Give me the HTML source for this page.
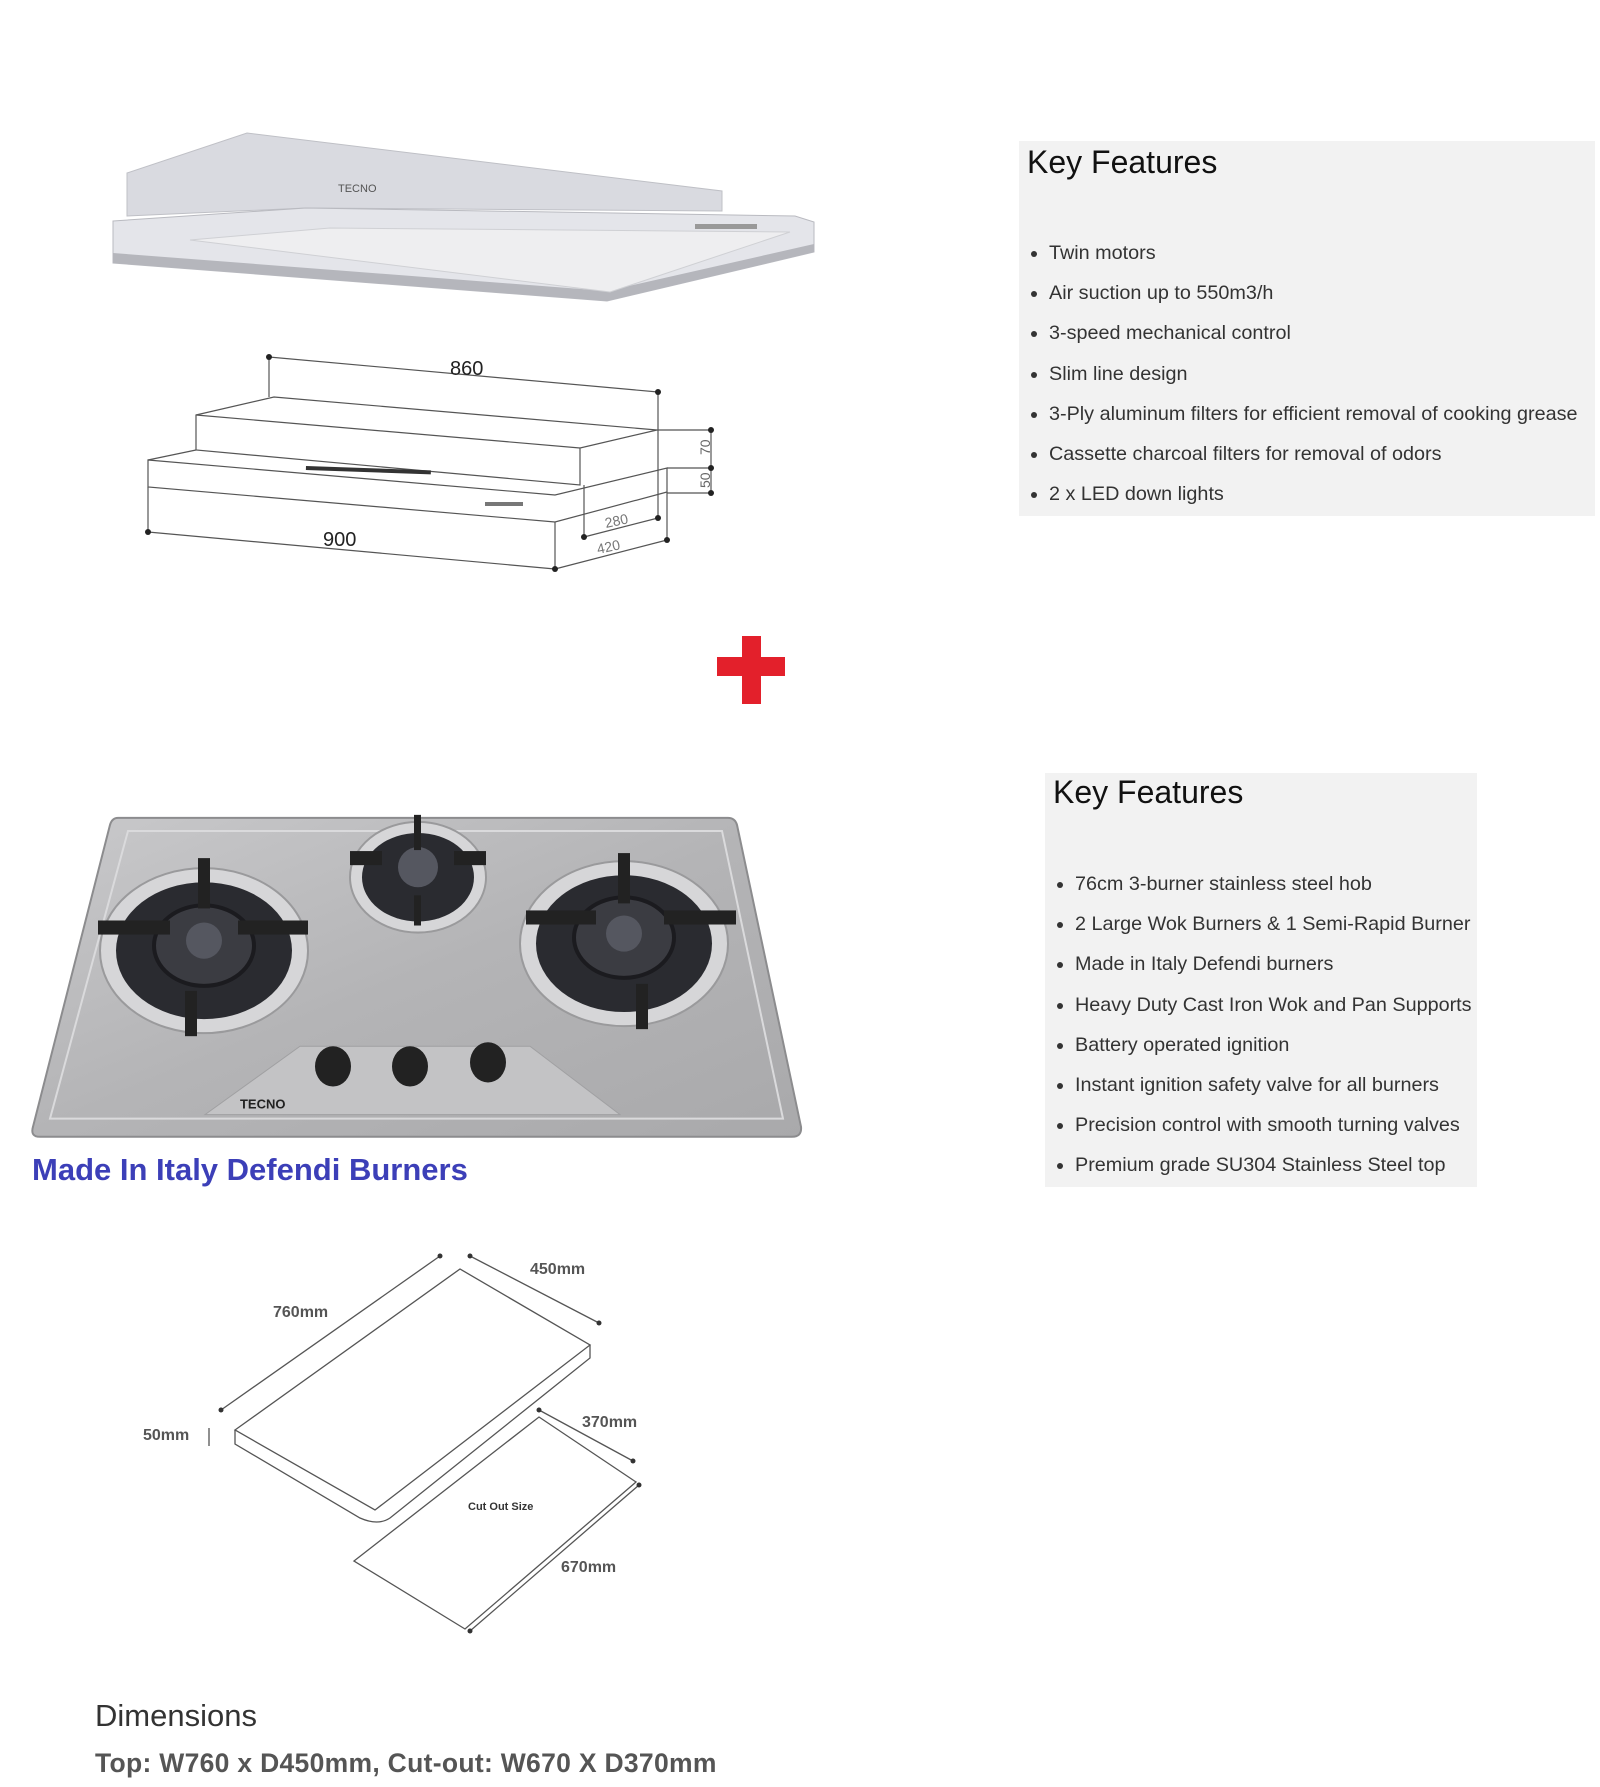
<!DOCTYPE html>
<html><head><meta charset="utf-8"><style>
html,body{margin:0;padding:0;background:#fff;}
body{width:1600px;height:1787px;position:relative;overflow:hidden;font-family:"Liberation Sans",sans-serif;}
.kf{position:absolute;background:#f2f2f2;color:#222;}
.kf h2{margin:0;font-weight:normal;font-size:32px;position:absolute;left:8px;top:0;color:#111;}
.kf ul{position:absolute;margin:0;padding:0 0 0 30px;list-style:disc;font-size:19.8px;color:#333;}
.kf li{height:40.2px;line-height:22px;}
svg{position:absolute;left:0;top:0;}
.t{position:absolute;white-space:nowrap;}
</style></head><body>
<svg width="1600" height="1787" viewBox="0 0 1600 1787">
<defs>
<linearGradient id="st" x1="0" y1="0" x2="1" y2="1"><stop offset="0" stop-color="#c9c9cb"/><stop offset="0.5" stop-color="#b4b4b6"/><stop offset="1" stop-color="#a9a9ab"/></linearGradient>
</defs>
<polygon points="127,173 247,133 722,191 722,211 306,208 127,216" fill="#d9dae0" stroke="#bfc0c6"/>
<polygon points="113,221 306,208 795,216 814,222 814,252 607,301 113,263" fill="#e4e5ea" stroke="#b9bac0"/>
<polygon points="113,253 607,291 814,244 814,252 607,301 113,263" fill="#b5b6bc"/>
<polygon points="190,240 330,228 790,232 610,292" fill="#eeeef0" stroke="#cfd0d4"/>
<text x="338" y="192" font-size="11" fill="#555" font-family="Liberation Sans">TECNO</text>
<rect x="695" y="224" width="62" height="5" fill="#999"/>
<g stroke="#555" stroke-width="1.2" fill="none">
<polygon points="196,415 274,397 657,430 580,448 580,485 196,450"/>
<line x1="196" y1="415" x2="580" y2="448"/>
<polygon points="148,460 555,495 667,468 667,492 555,522 148,487"/>
<line x1="148" y1="460" x2="196" y2="450"/>
<line x1="269" y1="357" x2="658" y2="392"/><line x1="269" y1="357" x2="269" y2="397"/><line x1="658" y1="392" x2="658" y2="518"/>
<line x1="148" y1="487" x2="148" y2="532"/><line x1="148" y1="532" x2="555" y2="569"/><line x1="555" y1="522" x2="555" y2="569"/>
<line x1="555" y1="569" x2="667" y2="540"/><line x1="667" y1="492" x2="667" y2="540"/>
<line x1="584" y1="537" x2="658" y2="518"/><line x1="584" y1="485" x2="584" y2="537"/>
<line x1="657" y1="430" x2="711" y2="430"/><line x1="667" y1="468" x2="711" y2="468"/><line x1="667" y1="493" x2="711" y2="493"/><line x1="711" y1="430" x2="711" y2="493"/>
</g>
<rect x="306" y="466" width="125" height="4" fill="#333" transform="rotate(2 306 466)"/>
<rect x="485" y="502" width="38" height="4" fill="#777"/>
<g fill="#222"><circle cx="269" cy="357" r="3"/><circle cx="658" cy="392" r="3"/><circle cx="148" cy="532" r="3"/><circle cx="555" cy="569" r="3"/><circle cx="667" cy="540" r="3"/><circle cx="584" cy="537" r="3"/><circle cx="658" cy="518" r="3"/><circle cx="711" cy="430" r="3"/><circle cx="711" cy="468" r="3"/><circle cx="711" cy="493" r="3"/></g>
<g font-family="Liberation Sans" fill="#222"><text x="450" y="375" font-size="20">860</text><text x="323" y="546" font-size="20">900</text>
<text font-size="14" fill="#666" transform="translate(710,455) rotate(-90)">70</text><text font-size="14" fill="#666" transform="translate(710,488) rotate(-90)">50</text>
<text x="606" y="528" font-size="14" fill="#777" transform="rotate(-12 606 528)">280</text><text x="598" y="554" font-size="14" fill="#777" transform="rotate(-12 598 554)">420</text></g>
<rect x="717" y="657" width="68" height="19" fill="#e3202b"/><rect x="742" y="636" width="19" height="68" fill="#e3202b"/>
<g transform="translate(0,0) scale(1,1.006)">
<path d="M118,813 L728,813 Q735,813 737,820 L801,1120 Q802,1130 792,1130 L40,1130 Q30,1130 33,1120 L110,820 Q112,813 118,813 Z" fill="url(#st)" stroke="#8c8c8e" stroke-width="2"/>
<path d="M128,826 L722,826 L783,1112 L50,1112 Z" fill="none" stroke="#dadadc" stroke-width="2"/>
<polygon points="300,1040 530,1040 620,1108 205,1108" fill="#c3c3c5" stroke="#a0a0a2"/>
<ellipse cx="204" cy="945" rx="104" ry="82" fill="#d6d6d8" stroke="#9a9a9c" stroke-width="2"/>
<ellipse cx="204" cy="945" rx="88" ry="68" fill="#2a2b30"/>
<ellipse cx="204" cy="940" rx="50" ry="40" fill="#3b3c42" stroke="#1b1b1f" stroke-width="4"/>
<circle cx="204" cy="935" r="18" fill="#555760"/>
<ellipse cx="624" cy="938" rx="104" ry="82" fill="#d6d6d8" stroke="#9a9a9c" stroke-width="2"/>
<ellipse cx="624" cy="938" rx="88" ry="68" fill="#2a2b30"/>
<ellipse cx="624" cy="932" rx="50" ry="40" fill="#3b3c42" stroke="#1b1b1f" stroke-width="4"/>
<circle cx="624" cy="928" r="18" fill="#555760"/>
<ellipse cx="418" cy="872" rx="68" ry="55" fill="#d6d6d8" stroke="#9a9a9c" stroke-width="2"/>
<ellipse cx="418" cy="872" rx="56" ry="44" fill="#2a2b30"/>
<circle cx="418" cy="862" r="20" fill="#555760"/>
<g fill="#222">
<rect x="98" y="915" width="72" height="14"/><rect x="238" y="915" width="70" height="14"/><rect x="198" y="853" width="12" height="50"/><rect x="185" y="985" width="12" height="45"/>
<rect x="526" y="905" width="70" height="14"/><rect x="664" y="905" width="72" height="14"/><rect x="618" y="848" width="12" height="50"/><rect x="636" y="978" width="12" height="45"/>
<rect x="350" y="846" width="32" height="14"/><rect x="454" y="846" width="32" height="14"/><rect x="414" y="810" width="7" height="35"/><rect x="414" y="890" width="7" height="30"/>
<ellipse cx="333" cy="1060" rx="18" ry="20"/><ellipse cx="410" cy="1060" rx="18" ry="20"/><ellipse cx="488" cy="1056" rx="18" ry="20"/>
</g>
<text x="240" y="1102" font-size="13" font-weight="bold" fill="#222" font-family="Liberation Sans">TECNO</text>
</g>
<g transform="translate(0,6)">
<g stroke="#555" stroke-width="1.3" fill="none">
<polygon points="235,1424 460,1263 590,1339 375,1504"/>
<path d="M235,1424 L235,1438 L360,1512 Q378,1520 390,1512 L590,1352 L590,1339"/>
<polygon points="354,1555 539,1411 636,1476 465,1623"/>
<line x1="221" y1="1404" x2="440" y2="1250"/><line x1="470" y1="1250" x2="599" y2="1317"/>
<line x1="539" y1="1404" x2="633" y2="1455"/><line x1="639" y1="1479" x2="470" y2="1625"/>
<line x1="209" y1="1422" x2="209" y2="1440"/>
</g>
<g fill="#333"><circle cx="221" cy="1404" r="2.5"/><circle cx="440" cy="1250" r="2.5"/><circle cx="470" cy="1250" r="2.5"/><circle cx="599" cy="1317" r="2.5"/><circle cx="539" cy="1404" r="2.5"/><circle cx="633" cy="1455" r="2.5"/><circle cx="639" cy="1479" r="2.5"/><circle cx="470" cy="1625" r="2.5"/></g>
<g font-family="Liberation Sans" font-weight="bold" fill="#555" font-size="16">
<text x="273" y="1311">760mm</text><text x="530" y="1268">450mm</text><text x="143" y="1434">50mm</text><text x="582" y="1421">370mm</text><text x="561" y="1566">670mm</text>
<text x="468" y="1504" font-size="11" fill="#333">Cut Out Size</text></g>
</g>
</svg>
<div class="t" style="left:32px;top:1152px;font-size:31px;font-weight:bold;color:#3c3fb8;">Made In Italy Defendi Burners</div>
<div class="t" style="left:95px;top:1698px;font-size:31px;color:#333;">Dimensions</div>
<div class="t" style="left:95px;top:1748px;font-size:26.5px;font-weight:bold;color:#555;letter-spacing:0.3px;">Top: W760 x D450mm, Cut-out: W670 X D370mm</div>

<div class="kf" style="left:1019px;top:141px;width:576px;height:375px;">
<h2 style="top:3px;">Key Features</h2>
<ul style="top:101px;">
<li>Twin motors</li><li>Air suction up to 550m3/h</li><li>3-speed mechanical control</li><li>Slim line design</li><li>3-Ply aluminum filters for efficient removal of cooking grease</li><li>Cassette charcoal filters for removal of odors</li><li>2 x LED down lights</li>
</ul></div>
<div class="kf" style="left:1045px;top:773px;width:432px;height:414px;">
<h2 style="top:1px;">Key Features</h2>
<ul style="top:100px;">
<li>76cm 3-burner stainless steel hob</li><li>2 Large Wok Burners &amp; 1 Semi-Rapid Burner</li><li>Made in Italy Defendi burners</li><li>Heavy Duty Cast Iron Wok and Pan Supports</li><li>Battery operated ignition</li><li>Instant ignition safety valve for all burners</li><li>Precision control with smooth turning valves</li><li>Premium grade SU304 Stainless Steel top</li>
</ul></div>
</body></html>
